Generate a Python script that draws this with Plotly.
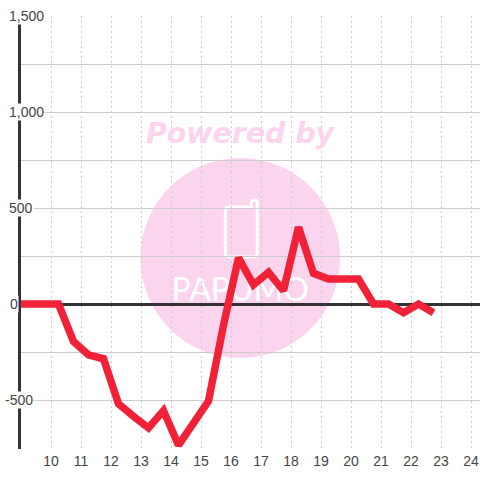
import plotly.graph_objects as go

hours = [8.88, 9.25, 9.75, 10.25, 10.75, 11.25, 11.75, 12.25, 12.75, 13.25, 13.75, 14.25, 14.75, 15.25, 15.75,
         16.25, 16.75, 17.25, 17.75, 18.25, 18.75, 19.25, 19.75, 20.25, 20.75, 21.25, 21.75, 22.25, 22.75]
values = [0, 0, 0, 0, -195, -265, -285, -520, -585, -645, -555, -735, -620, -505, -110,
          240, 100, 165, 70, 400, 160, 130, 130, 130, 0, 0, -45, 0, -45]
x_ticks = list(range(10, 25))
y_grid = [-750, -500, -250, 0, 250, 500, 750, 1000, 1250, 1500]
y_labels = {1500: "1,500", 1000: "1,000", 500: "500", 0: "0", -500: "-500"}
y_label_left = {1500: 7, 1000: 7, 500: 7, 0: 8, -500: 3}

W, H = 480, 480
L, R, T, B = 20.5, 0, 16, 31
PINK = "#fbd5ee"

def px(x): return (x - L) / (W - L - R)
def py(y): return 1 - (y - T) / (H - T - B)

def P(x, y): return f"{px(x):.5f},{py(y):.5f}"

phone = ("M" + P(229, 207) + " L" + P(251, 207) + " L" + P(251, 203) + " Q" + P(251, 200) + " " + P(254, 200)
         + " Q" + P(257, 200) + " " + P(257, 203) + " L" + P(257, 253) + " Q" + P(257, 257) + " " + P(253, 257)
         + " L" + P(229, 257) + " Q" + P(225, 257) + " " + P(225, 253) + " L" + P(225, 211) + " Q" + P(225, 207) + " " + P(229, 207) + " Z")

fig = go.Figure(go.Scatter(x=hours, y=values, mode="lines", cliponaxis=False,
                           line=dict(color="#f12238", width=7.5), hoverinfo="skip"))

shapes = [
    dict(type="circle", xref="paper", yref="paper", layer="below", x0=px(140), x1=px(340), y0=py(358), y1=py(158),
         fillcolor=PINK, line_width=0),
    dict(type="path", xref="paper", yref="paper", layer="below", path=phone,
         fillcolor="rgba(0,0,0,0)", line=dict(color="white", width=3)),
    dict(type="rect", xref="paper", yref="paper", layer="below", x0=px(170), x1=px(310), y0=py(307), y1=py(270),
         fillcolor="rgba(0,0,0,0)", line_width=0,
         label=dict(text="PAPUMO", font=dict(family="Lato", size=32, color="white", weight=400),
                    textposition="middle center")),
]
annotations = [
    dict(text="<b><i>Powered by</i></b>", xref="paper", yref="paper", x=px(241), y=py(134), showarrow=False,
         xanchor="center", yanchor="middle", font=dict(family="DejaVu Sans", size=28.4, color=PINK)),
]
for v, t in y_labels.items():
    annotations.append(dict(text=t, xref="paper", yref="y", x=px(y_label_left[v]), y=v, showarrow=False,
                            xanchor="left", yanchor="middle", bgcolor="white", borderpad=0,
                            font=dict(family="Liberation Sans", size=14, color="#444444")))

fig.update_layout(
    width=W, height=H, margin=dict(l=L, r=R, t=T, b=B, autoexpand=False),
    paper_bgcolor="white", plot_bgcolor="white", showlegend=False,
    shapes=shapes, annotations=annotations,
    xaxis=dict(range=[9, 24.3], tickmode="array", tickvals=x_ticks, ticktext=[str(v) for v in x_ticks],
               showgrid=True, gridcolor="#cccccc", griddash="2px,3px", gridwidth=1, zeroline=False, showline=False,
               ticks="", ticklabelstandoff=2, tickfont=dict(family="Liberation Sans", size=14, color="#444444")),
    yaxis=dict(range=[-755, 1500], tickmode="array", tickvals=y_grid, showticklabels=False, layer="below traces",
               showgrid=True, gridcolor="#cccccc", gridwidth=1, zeroline=True, zerolinecolor="#333333", zerolinewidth=3,
               showline=True, linecolor="#333333", linewidth=3, ticks=""),
)
fig.write_html("out.html", config={"displayModeBar": False},
               post_script="document.body.style.margin='0';document.documentElement.style.overflow='hidden';")
